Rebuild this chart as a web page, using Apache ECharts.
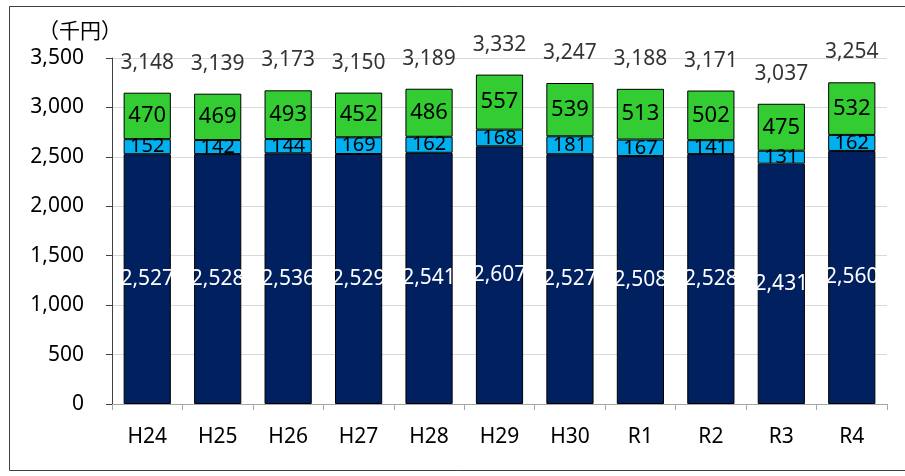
<!DOCTYPE html>
<html><head><meta charset="utf-8">
<script src="https://cdn.jsdelivr.net/npm/echarts@6/dist/echarts.min.js"></script>
<style>html,body{margin:0;padding:0;background:#fff}#c{width:905px;height:476px}</style>
</head><body><div id="c"></div>
<script>
const categories = ['H24','H25','H26','H27','H28','H29','H30','R1','R2','R3','R4'];
const darkValues = [2527,2528,2536,2529,2541,2607,2527,2508,2528,2431,2560];
const lightValues = [152,142,144,169,162,168,181,167,141,131,162];
const greenValues = [470,469,493,452,486,557,539,513,502,475,532];
const totals = [3148,3139,3173,3150,3189,3332,3247,3188,3171,3037,3254];
const unitLabel = '（千円）';

const FONT = '"Noto Sans", "Noto Sans CJK JP", sans-serif';
const fmt = v => Number(v).toLocaleString('en-US');
const chart = echarts.init(document.getElementById('c'), null, {renderer:'canvas'});
const barBorder = {borderColor:'#000', borderWidth:1};
chart.setOption({
  animation:false,
  textStyle:{fontFamily:FONT},
  grid:{left:112, right:18, top:58, bottom:72, containLabel:false},
  graphic:[
    {type:'rect', shape:{x:9.5, y:6.5, width:900, height:464}, style:{fill:'none', stroke:'#404040', lineWidth:1}, silent:true, z:-1},
    {type:'text', x:38, y:30, style:{text:unitLabel, font:'21px "Noto Sans CJK JP", sans-serif', fill:'#000', verticalAlign:'middle', textAlign:'left'}}
  ],
  xAxis:{type:'category', data:categories,
    axisLine:{lineStyle:{color:'#a6a6a6', width:1}},
    axisTick:{show:true, length:6, lineStyle:{color:'#a6a6a6'}},
    axisLabel:{color:'#000', fontSize:21, fontFamily:FONT, margin:23}},
  yAxis:{type:'value', min:0, max:3500, interval:500,
    axisLine:{show:true, lineStyle:{color:'#404040'}},
    axisTick:{show:true, inside:false, length:6, lineStyle:{color:'#404040'}},
    splitLine:{lineStyle:{color:'#d9d9d9'}},
    axisLabel:{color:'#000', fontSize:21, fontFamily:FONT, margin:28, formatter:v=>fmt(v)}},
  series:[
    {type:'bar', stack:'s', data:darkValues, barWidth:'67%',
     itemStyle:Object.assign({color:'#002060'}, barBorder),
     label:{show:true, position:'inside', color:'#fff', fontSize:21, fontFamily:FONT, formatter:p=>fmt(p.value)}},
    {type:'bar', stack:'s', data:lightValues, barWidth:'67%',
     itemStyle:Object.assign({color:'#00b0f0'}, barBorder),
     label:{show:true, position:'inside', color:'#000', fontSize:20, fontFamily:FONT, formatter:p=>fmt(p.value)}},
    {type:'bar', stack:'s', data:greenValues, barWidth:'67%',
     itemStyle:Object.assign({color:'#33cc33'}, barBorder),
     label:{show:true, position:'inside', color:'#000', fontSize:22, fontFamily:FONT, formatter:p=>fmt(p.value)}},
    {type:'scatter', data:totals, symbolSize:1, itemStyle:{color:'rgba(0,0,0,0)'},
     label:{show:true, position:'top', distance:19, color:'#000', fontSize:21, fontFamily:FONT, formatter:p=>fmt(p.value)}, z:5}
  ]
});
</script></body></html>
